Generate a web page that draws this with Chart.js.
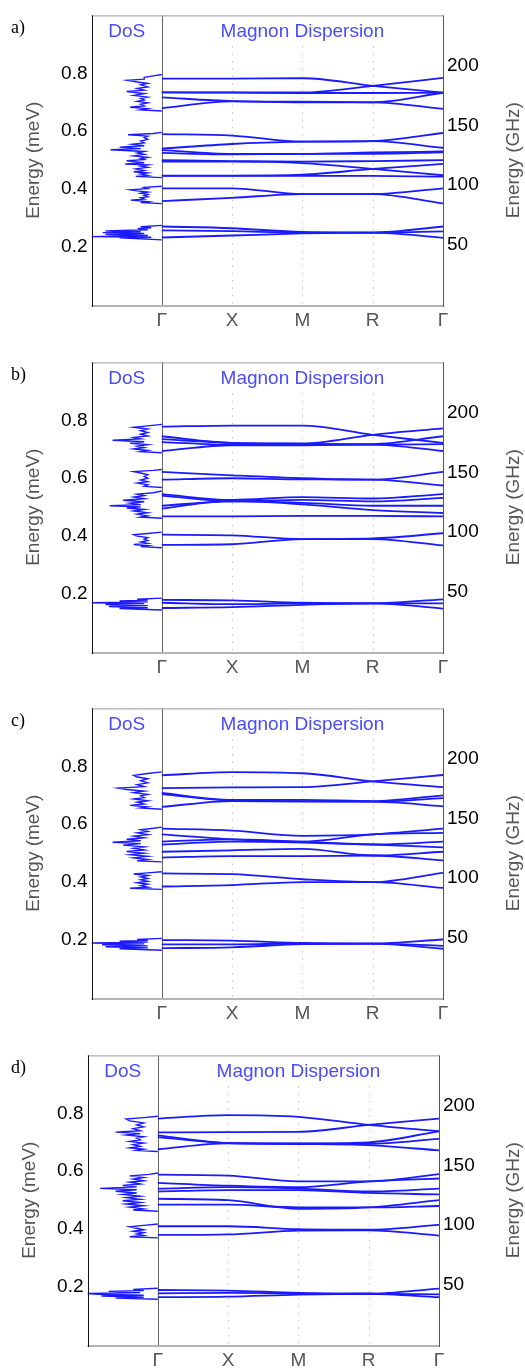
<!DOCTYPE html>
<html>
<head>
<meta charset="utf-8">
<script src="https://cdn.jsdelivr.net/npm/chart.js@4.4.0/dist/chart.umd.min.js"></script>
<style>
  body { margin: 0; background: #fff; width: 525px; height: 1368px; position: relative; overflow: hidden; }
  .panel { position: absolute; left: 0; width: 525px; height: 346px; }
</style>
</head>
<body>
<div class="panel" style="top:0px"><canvas id="chart_a" width="525" height="346"></canvas></div>
<div class="panel" style="top:347px"><canvas id="chart_b" width="525" height="346"></canvas></div>
<div class="panel" style="top:693px"><canvas id="chart_c" width="525" height="346"></canvas></div>
<div class="panel" style="top:1040px"><canvas id="chart_d" width="525" height="346"></canvas></div>
<script>
// path through the Brillouin zone, DoS sits in [-1, 0]
var kPos = [0, 1, 2, 3, 4];
var kLabels = ["Γ", "X", "M", "R", "Γ"];
var energyTicks = [0.2, 0.4, 0.6, 0.8];
var freqTicks = [50, 100, 150, 200];
var meVtoGHz = 241.8;

// band energies (meV) at Γ, X, M, R, Γ
var bandsA = [
	[0.782, 0.782, 0.783, 0.757, 0.733],
	[0.734, 0.734, 0.734, 0.757, 0.784],
	[0.734, 0.733, 0.732, 0.732, 0.733],
	[0.717, 0.704, 0.702, 0.700, 0.733],
	[0.680, 0.703, 0.700, 0.700, 0.677],
	[0.590, 0.585, 0.564, 0.566, 0.594],
	[0.540, 0.556, 0.564, 0.566, 0.543],
	[0.535, 0.522, 0.522, 0.527, 0.530],
	[0.525, 0.520, 0.522, 0.522, 0.527],
	[0.500, 0.497, 0.495, 0.497, 0.500],
	[0.495, 0.495, 0.490, 0.470, 0.448],
	[0.447, 0.447, 0.450, 0.470, 0.487],
	[0.446, 0.446, 0.446, 0.446, 0.443],
	[0.403, 0.403, 0.383, 0.383, 0.403],
	[0.359, 0.370, 0.383, 0.383, 0.351],
	[0.271, 0.265, 0.252, 0.250, 0.271],
	[0.258, 0.255, 0.250, 0.250, 0.254],
	[0.233, 0.240, 0.247, 0.250, 0.232]
];
var bandsB = [
	[0.778, 0.782, 0.782, 0.750, 0.722],
	[0.745, 0.722, 0.720, 0.750, 0.772],
	[0.735, 0.722, 0.719, 0.718, 0.745],
	[0.725, 0.716, 0.716, 0.716, 0.718],
	[0.694, 0.714, 0.714, 0.716, 0.694],
	[0.622, 0.610, 0.600, 0.595, 0.622],
	[0.595, 0.600, 0.596, 0.595, 0.575],
	[0.545, 0.525, 0.535, 0.530, 0.545],
	[0.540, 0.520, 0.525, 0.520, 0.532],
	[0.505, 0.520, 0.515, 0.505, 0.505],
	[0.495, 0.522, 0.510, 0.490, 0.480],
	[0.468, 0.468, 0.470, 0.470, 0.468],
	[0.405, 0.403, 0.390, 0.392, 0.410],
	[0.370, 0.372, 0.390, 0.390, 0.368],
	[0.180, 0.178, 0.170, 0.168, 0.182],
	[0.170, 0.165, 0.168, 0.168, 0.168],
	[0.152, 0.155, 0.163, 0.168, 0.150]
];
var bandsC = [
	[0.769, 0.780, 0.776, 0.748, 0.728],
	[0.725, 0.727, 0.728, 0.748, 0.770],
	[0.708, 0.684, 0.684, 0.680, 0.700],
	[0.704, 0.682, 0.680, 0.678, 0.690],
	[0.660, 0.680, 0.678, 0.678, 0.662],
	[0.585, 0.578, 0.560, 0.565, 0.585],
	[0.565, 0.548, 0.540, 0.565, 0.570],
	[0.540, 0.548, 0.540, 0.530, 0.540],
	[0.530, 0.540, 0.537, 0.530, 0.520],
	[0.505, 0.510, 0.515, 0.492, 0.505],
	[0.485, 0.490, 0.490, 0.492, 0.475],
	[0.430, 0.428, 0.410, 0.400, 0.432],
	[0.385, 0.390, 0.400, 0.400, 0.380],
	[0.200, 0.198, 0.190, 0.188, 0.202],
	[0.185, 0.185, 0.188, 0.188, 0.180],
	[0.172, 0.175, 0.186, 0.188, 0.170]
];
var bandsD = [
	[0.782, 0.794, 0.788, 0.760, 0.738],
	[0.734, 0.735, 0.736, 0.760, 0.782],
	[0.724, 0.698, 0.696, 0.700, 0.738],
	[0.718, 0.697, 0.695, 0.695, 0.712],
	[0.676, 0.696, 0.694, 0.690, 0.672],
	[0.588, 0.585, 0.565, 0.565, 0.590],
	[0.560, 0.550, 0.545, 0.565, 0.575],
	[0.540, 0.545, 0.540, 0.530, 0.540],
	[0.530, 0.535, 0.535, 0.525, 0.520],
	[0.505, 0.500, 0.470, 0.475, 0.500],
	[0.485, 0.485, 0.475, 0.475, 0.480],
	[0.410, 0.410, 0.400, 0.398, 0.415],
	[0.380, 0.382, 0.395, 0.396, 0.378],
	[0.190, 0.188, 0.180, 0.177, 0.195],
	[0.178, 0.180, 0.178, 0.177, 0.175],
	[0.165, 0.167, 0.174, 0.177, 0.165]
];

// density of states, one list per peak group as [energy, dos, energy, dos, ...]
var dosA = [
	[0.225, 0, 0.232, 0.6, 0.234, 0.15, 0.236, 1.0, 0.240, 0.2, 0.244, 0.8, 0.247, 0.25, 0.250, 0.84, 0.253, 0.3, 0.256, 0.8, 0.260, 0.2, 0.264, 0.34, 0.267, 0.15, 0.270, 0.3, 0.275, 0],
	[0.350, 0, 0.354, 0.3, 0.357, 0.2, 0.362, 0.44, 0.366, 0.25, 0.370, 0.3, 0.374, 0.2, 0.378, 0.25, 0.382, 0.2, 0.386, 0.3, 0.390, 0.2, 0.394, 0.35, 0.398, 0.45, 0.402, 0.2, 0.406, 0.25, 0.410, 0],
	[0.440, 0, 0.444, 0.37, 0.447, 0.2, 0.452, 0.3, 0.456, 0.2, 0.460, 0.4, 0.464, 0.25, 0.470, 0.37, 0.475, 0.2, 0.480, 0.3, 0.484, 0.2, 0.487, 0.52, 0.491, 0.25, 0.495, 0.4, 0.498, 0.5, 0.502, 0.25, 0.506, 0.3, 0.510, 0.2, 0.515, 0.4, 0.520, 0.25, 0.525, 0.35, 0.530, 0.25, 0.536, 0.73, 0.540, 0.3, 0.545, 0.6, 0.550, 0.25, 0.555, 0.42, 0.560, 0.25, 0.566, 0.3, 0.572, 0.2, 0.578, 0.25, 0.583, 0.2, 0.588, 0.48, 0.592, 0.12, 0.596, 0],
	[0.670, 0, 0.674, 0.3, 0.678, 0.2, 0.683, 0.45, 0.688, 0.25, 0.693, 0.3, 0.698, 0.2, 0.703, 0.35, 0.708, 0.25, 0.713, 0.3, 0.718, 0.2, 0.724, 0.4, 0.730, 0.25, 0.737, 0.5, 0.742, 0.25, 0.748, 0.35, 0.753, 0.2, 0.760, 0.3, 0.765, 0.2, 0.770, 0.35, 0.776, 0.49, 0.780, 0.25, 0.786, 0.25, 0.791, 0.12, 0.796, 0]
];
var dosB = [
	[0.145, 0, 0.150, 0.6, 0.153, 0.2, 0.157, 0.75, 0.160, 0.2, 0.164, 0.8, 0.167, 0.25, 0.170, 1.0, 0.173, 0.2, 0.176, 0.6, 0.179, 0.2, 0.182, 0.35, 0.186, 0],
	[0.360, 0, 0.364, 0.3, 0.367, 0.2, 0.371, 0.4, 0.375, 0.2, 0.380, 0.3, 0.385, 0.2, 0.390, 0.25, 0.395, 0.2, 0.400, 0.35, 0.405, 0.4, 0.409, 0.2, 0.414, 0],
	[0.462, 0, 0.466, 0.3, 0.470, 0.2, 0.476, 0.35, 0.481, 0.2, 0.487, 0.4, 0.492, 0.25, 0.497, 0.5, 0.501, 0.3, 0.505, 0.74, 0.509, 0.3, 0.514, 0.45, 0.519, 0.25, 0.524, 0.55, 0.529, 0.25, 0.535, 0.4, 0.540, 0.25, 0.545, 0.35, 0.550, 0.12, 0.556, 0],
	[0.568, 0, 0.572, 0.25, 0.577, 0.2, 0.583, 0.35, 0.588, 0.2, 0.594, 0.3, 0.600, 0.2, 0.606, 0.25, 0.612, 0.2, 0.618, 0.3, 0.623, 0.4, 0.627, 0.12, 0.630, 0],
	[0.688, 0, 0.692, 0.3, 0.696, 0.2, 0.701, 0.4, 0.706, 0.25, 0.711, 0.35, 0.716, 0.2, 0.721, 0.45, 0.726, 0.25, 0.731, 0.7, 0.736, 0.3, 0.741, 0.4, 0.746, 0.2, 0.752, 0.3, 0.758, 0.2, 0.764, 0.3, 0.770, 0.2, 0.776, 0.4, 0.781, 0.2, 0.786, 0]
];
var dosC = [
	[0.165, 0, 0.170, 0.6, 0.173, 0.2, 0.177, 0.8, 0.180, 0.2, 0.184, 0.85, 0.187, 0.25, 0.190, 1.0, 0.193, 0.2, 0.196, 0.6, 0.199, 0.2, 0.202, 0.35, 0.206, 0],
	[0.375, 0, 0.379, 0.45, 0.383, 0.2, 0.388, 0.3, 0.393, 0.2, 0.398, 0.35, 0.403, 0.2, 0.408, 0.3, 0.413, 0.2, 0.418, 0.3, 0.423, 0.2, 0.428, 0.4, 0.432, 0.2, 0.436, 0],
	[0.470, 0, 0.474, 0.35, 0.478, 0.2, 0.484, 0.4, 0.489, 0.2, 0.495, 0.45, 0.500, 0.25, 0.506, 0.5, 0.511, 0.25, 0.517, 0.4, 0.522, 0.25, 0.528, 0.55, 0.533, 0.3, 0.538, 0.7, 0.543, 0.3, 0.548, 0.5, 0.553, 0.25, 0.559, 0.4, 0.564, 0.2, 0.570, 0.35, 0.575, 0.2, 0.581, 0.3, 0.586, 0.12, 0.590, 0],
	[0.652, 0, 0.656, 0.3, 0.660, 0.2, 0.665, 0.45, 0.670, 0.25, 0.676, 0.35, 0.681, 0.2, 0.687, 0.4, 0.692, 0.25, 0.698, 0.3, 0.703, 0.2, 0.709, 0.4, 0.714, 0.25, 0.720, 0.5, 0.725, 0.62, 0.730, 0.25, 0.737, 0.35, 0.743, 0.2, 0.750, 0.3, 0.757, 0.2, 0.763, 0.35, 0.769, 0.4, 0.775, 0.2, 0.781, 0]
];
var dosD = [
	[0.158, 0, 0.162, 0.6, 0.165, 0.2, 0.169, 0.8, 0.172, 0.2, 0.175, 0.85, 0.178, 1.0, 0.181, 0.25, 0.185, 0.7, 0.188, 0.2, 0.192, 0.35, 0.196, 0],
	[0.370, 0, 0.374, 0.4, 0.378, 0.2, 0.383, 0.3, 0.388, 0.2, 0.393, 0.35, 0.398, 0.2, 0.403, 0.3, 0.408, 0.4, 0.413, 0.2, 0.418, 0],
	[0.462, 0, 0.466, 0.35, 0.470, 0.2, 0.476, 0.4, 0.481, 0.2, 0.487, 0.45, 0.492, 0.25, 0.498, 0.5, 0.503, 0.25, 0.509, 0.45, 0.514, 0.25, 0.520, 0.5, 0.525, 0.3, 0.531, 0.6, 0.536, 0.3, 0.541, 0.82, 0.546, 0.3, 0.551, 0.5, 0.556, 0.25, 0.562, 0.4, 0.567, 0.2, 0.573, 0.35, 0.578, 0.2, 0.584, 0.4, 0.589, 0.12, 0.594, 0],
	[0.668, 0, 0.672, 0.3, 0.676, 0.2, 0.681, 0.4, 0.686, 0.25, 0.692, 0.35, 0.697, 0.2, 0.703, 0.4, 0.708, 0.25, 0.714, 0.3, 0.719, 0.2, 0.725, 0.45, 0.730, 0.25, 0.735, 0.6, 0.740, 0.25, 0.747, 0.35, 0.753, 0.2, 0.760, 0.3, 0.767, 0.2, 0.774, 0.4, 0.780, 0.45, 0.785, 0.2, 0.790, 0]
];

var BAND_COLOR = "#1a1aff";
var TITLE_COLOR = "#4b4bff";
var FONT = "'Liberation Sans', Arial, sans-serif";

Chart.defaults.font.family = FONT;

function bandSets(bands) {
	return bands.map(function (b) {
		return {
			data: b.map(function (e, i) { return { x: kPos[i], y: e }; }),
			showLine: true,
			borderColor: BAND_COLOR,
			borderWidth: 1.8,
			pointRadius: 0,
			cubicInterpolationMode: "monotone"
		};
	});
}

function dosSets(groups) {
	return groups.map(function (g) {
		var pts = [];
		for (var i = 0; i < g.length; i += 2) {
			pts.push({ x: -g[i + 1], y: g[i] });
		}
		return {
			data: pts,
			showLine: true,
			borderColor: BAND_COLOR,
			borderWidth: 1.4,
			pointRadius: 0,
			tension: 0
		};
	});
}

function line(ctx, x1, y1, x2, y2) {
	ctx.beginPath();
	ctx.moveTo(x1, y1);
	ctx.lineTo(x2, y2);
	ctx.stroke();
}

var framePlugin = {
	id: "frame",
	beforeDatasetsDraw: function (chart) {
		var ctx = chart.ctx, a = chart.chartArea, x = chart.scales.x;
		ctx.save();
		ctx.strokeStyle = "#c4c4c4";
		ctx.lineWidth = 1;
		ctx.setLineDash([1.5, 5.8]);
		[1, 2, 3].forEach(function (k) {
			var px = Math.round(x.getPixelForValue(k)) + 0.5;
			line(ctx, px, a.top + 31, px, a.bottom);
		});
		ctx.setLineDash([]);
		ctx.strokeStyle = "#666";
		var g = Math.round(x.getPixelForValue(0)) + 0.5;
		line(ctx, g, a.top, g, a.bottom);
		ctx.restore();
	},
	afterDatasetsDraw: function (chart) {
		var ctx = chart.ctx, a = chart.chartArea, x = chart.scales.x;
		var opts = chart.options.plugins.frame;
		ctx.save();
		ctx.lineWidth = 1;
		ctx.strokeStyle = "#9a9a9a";
		line(ctx, a.left, a.top + 0.5, a.right, a.top + 0.5);
		ctx.strokeStyle = "#b4b4b4";
		ctx.lineWidth = 2;
		line(ctx, a.left, a.bottom + 1, a.right + 1, a.bottom + 1);
		ctx.lineWidth = 1;
		ctx.strokeStyle = "#111";
		line(ctx, Math.round(a.left) + 0.5, a.top, Math.round(a.left) + 0.5, a.bottom + 2);
		ctx.strokeStyle = "#555";
		line(ctx, Math.round(a.right) + 0.5, a.top, Math.round(a.right) + 0.5, a.bottom + 2);

		ctx.fillStyle = TITLE_COLOR;
		ctx.font = "19px " + FONT;
		ctx.textAlign = "center";
		ctx.textBaseline = "middle";
		ctx.fillText("DoS", x.getPixelForValue(-0.5), a.top + 16);
		ctx.fillText("Magnon Dispersion", x.getPixelForValue(2), a.top + 16);

		// axis titles
		var midY = (a.top + a.bottom) / 2;
		ctx.fillStyle = "#555";
		ctx.save();
		ctx.translate(opts.leftTitleX, midY);
		ctx.rotate(-Math.PI / 2);
		ctx.fillText("Energy (meV)", 0, 0);
		ctx.restore();
		ctx.save();
		ctx.translate(opts.rightTitleX, midY);
		ctx.rotate(-Math.PI / 2);
		ctx.fillText("Energy (GHz)", 0, 0);
		ctx.restore();

		ctx.fillStyle = "#000";
		ctx.font = "18px 'Liberation Serif', 'DejaVu Serif', serif";
		ctx.textAlign = "left";
		ctx.fillText(opts.letter, 11, a.top + 13);
		ctx.restore();
	}
};

function makeChart(id, letter, bands, dos, left, right) {
	var ctx = document.getElementById(id).getContext("2d");
	return new Chart(ctx, {
		type: "scatter",
		data: { datasets: dosSets(dos).concat(bandSets(bands)) },
		options: {
			responsive: false,
			animation: false,
			layout: { padding: { top: 7, left: 0, right: 0, bottom: 0 } },
			plugins: {
				legend: { display: false },
				tooltip: { enabled: false },
				frame: { letter: letter, leftTitleX: left - 58, rightTitleX: 514 }
			},
			scales: {
				x: {
					type: "linear",
					min: -1,
					max: 4,
					afterBuildTicks: function (s) {
						s.ticks = kPos.map(function (v) { return { value: v }; });
					},
					afterFit: function (s) { s.height = 41; },
					ticks: {
						autoSkip: false,
						maxRotation: 0,
						padding: 4,
						color: "#555",
						font: { size: 19 },
						callback: function (v) { return kLabels[kPos.indexOf(v)]; }
					},
					grid: { display: false, drawTicks: false },
					border: { display: false }
				},
				y: {
					position: "left",
					min: 0,
					max: 1,
					afterBuildTicks: function (s) {
						s.ticks = energyTicks.map(function (v) { return { value: v }; });
					},
					afterFit: function (s) { s.width = left; },
					ticks: {
						padding: 4,
						color: "#000",
						font: { size: 19 },
						callback: function (v) { return v.toFixed(1); }
					},
					grid: { display: false, drawTicks: false },
					border: { display: false }
				},
				y2: {
					position: "right",
					min: 0,
					max: meVtoGHz,
					afterBuildTicks: function (s) {
						s.ticks = freqTicks.map(function (v) { return { value: v }; });
					},
					afterFit: function (s) { s.width = 525 - right; },
					ticks: {
						padding: 4,
						color: "#000",
						font: { size: 19 },
						callback: function (v) { return String(v); }
					},
					grid: { display: false, drawTicks: false },
					border: { display: false }
				}
			}
		},
		plugins: [framePlugin]
	});
}

makeChart("chart_a", "a)", bandsA, dosA, 91.5, 443);
makeChart("chart_b", "b)", bandsB, dosB, 91.5, 443);
makeChart("chart_c", "c)", bandsC, dosC, 91.5, 443);
makeChart("chart_d", "d)", bandsD, dosD, 87.5, 439);
</script>
</body>
</html>
